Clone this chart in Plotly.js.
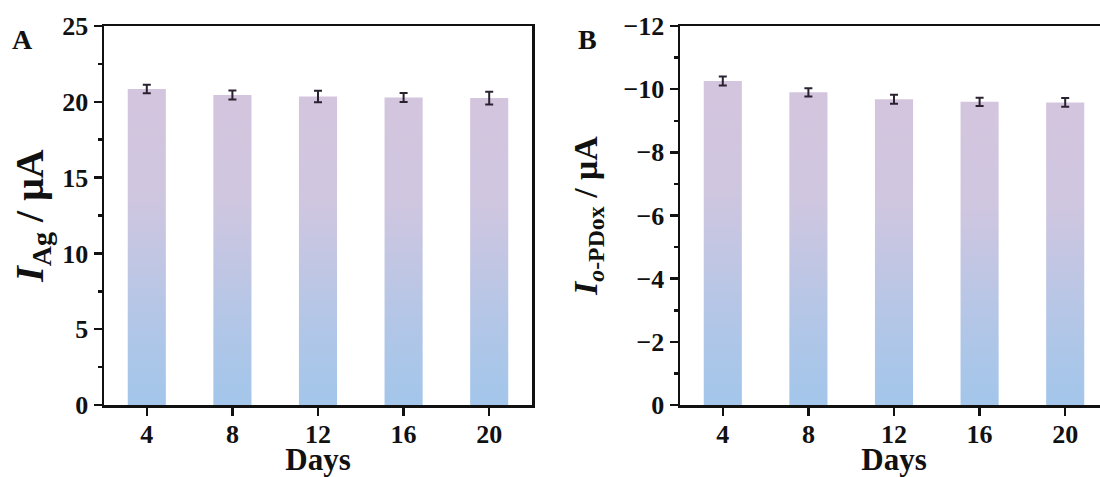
<!DOCTYPE html>
<html>
<head>
<meta charset="utf-8">
<script src="https://cdn.plot.ly/plotly-3.0.1.min.js"></script>
<style>
  html, body { margin: 0; padding: 0; overflow: hidden; background: #fff; }
  #chart { width: 1110px; height: 477px; }
</style>
</head>
<body>
<div id="chart"></div>
<script>
// ---- data ----
const days = [4, 8, 12, 16, 20];
const agCurrent = [20.85, 20.45, 20.35, 20.28, 20.25];      // panel A, µA
const agError = [0.28, 0.30, 0.38, 0.30, 0.42];
const opdCurrent = [-10.26, -9.90, -9.68, -9.60, -9.58];    // panel B, µA
const opdError = [0.14, 0.13, 0.14, 0.13, 0.14];
const panelLabels = ['A', 'B'];
const xTitle = 'Days';
const yTitleA = '<i>I</i><sub>Ag</sub>\u00A0/ μA';
const yTitleB = '<i>I</i><sub><i>o</i>-PDox</sub> / μA';

// ---- style ----
const W = 1110, H = 477;
const FONT = "'Liberation Serif', 'Times New Roman', serif";
const AXC = '#111111';
const ERRC = '#2a2230';
const barWidth = 1.78;

function px(x) { return x / W; }

const errStyle = { type: 'data', visible: true, thickness: 2, width: 4, color: ERRC };

const traces = [
  {
    type: 'bar', x: days, y: agCurrent, width: barWidth,
    marker: { color: '#bfc5e3', line: { width: 0 } },
    error_y: Object.assign({ array: agError }, errStyle),
    xaxis: 'x', yaxis: 'y', hoverinfo: 'none'
  },
  {
    type: 'bar', x: days, y: opdCurrent, width: barWidth,
    marker: { color: '#bfc5e3', line: { width: 0 } },
    error_y: Object.assign({ array: opdError }, errStyle),
    xaxis: 'x2', yaxis: 'y2', hoverinfo: 'none'
  }
];

const tickFont = { family: FONT, size: 26, color: AXC, weight: 'bold' };
const xTitleFont = { family: FONT, size: 31, color: AXC, weight: 'bold' };

function xAxis(domain, anchor) {
  return {
    domain: domain, anchor: anchor, range: [2, 22],
    tickmode: 'array', tickvals: days, ticktext: days.map(String),
    ticks: 'outside', ticklen: 8, tickwidth: 2.5, tickcolor: AXC,
    showline: true, linewidth: 2.5, linecolor: AXC, mirror: true,
    showgrid: false, zeroline: false,
    tickfont: tickFont, ticklabelstandoff: -4,
    title: { text: xTitle, font: xTitleFont, standoff: 2 }
  };
}

const layout = {
  width: W, height: H,
  margin: { l: 0, r: 0, t: 26, b: 72, pad: 0 },
  paper_bgcolor: '#ffffff', plot_bgcolor: '#ffffff',
  showlegend: false,
  font: { family: FONT, color: AXC },
  xaxis: xAxis([px(104), px(532)], 'y'),
  xaxis2: xAxis([px(680), px(1108)], 'y2'),
  yaxis: {
    domain: [0, 1], anchor: 'x', range: [0, 25],
    tickmode: 'linear', tick0: 0, dtick: 5,
    ticks: 'outside', ticklen: 8, tickwidth: 2.5, tickcolor: AXC,
    minor: { ticks: 'outside', dtick: 2.5, ticklen: 4, tickwidth: 2.5, tickcolor: AXC, showgrid: false },
    showline: true, linewidth: 2.5, linecolor: AXC, mirror: true,
    showgrid: false, zeroline: false,
    tickfont: tickFont,
    title: { text: yTitleA, font: { family: FONT, size: 40, color: AXC, weight: 'bold' }, standoff: 7 }
  },
  yaxis2: {
    domain: [0, 1], anchor: 'x2', range: [0, -12],
    tickmode: 'linear', tick0: 0, dtick: 2,
    ticks: 'outside', ticklen: 8, tickwidth: 2.5, tickcolor: AXC,
    minor: { ticks: 'outside', dtick: 1, ticklen: 4, tickwidth: 2.5, tickcolor: AXC, showgrid: false },
    showline: true, linewidth: 2.5, linecolor: AXC, mirror: true,
    showgrid: false, zeroline: false,
    tickfont: tickFont,
    title: { text: yTitleB, font: { family: FONT, size: 34, color: AXC, weight: 'bold' }, standoff: 16 }
  },
  annotations: [
    { text: panelLabels[0], xref: 'paper', yref: 'paper', x: px(22), y: 1 - (40 - 26) / 379,
      xanchor: 'center', yanchor: 'middle', showarrow: false,
      font: { family: FONT, size: 28, color: AXC, weight: 'bold' } },
    { text: panelLabels[1], xref: 'paper', yref: 'paper', x: px(587), y: 1 - (40 - 26) / 379,
      xanchor: 'center', yanchor: 'middle', showarrow: false,
      font: { family: FONT, size: 28, color: AXC, weight: 'bold' } }
  ]
};

function applyGradient(gd) {
  const svg = gd.querySelector('svg.main-svg');
  if (!svg) return;
  const NS = 'http://www.w3.org/2000/svg';
  let defs = svg.querySelector('defs');
  if (!defs) { defs = document.createElementNS(NS, 'defs'); svg.insertBefore(defs, svg.firstChild); }
  const grad = document.createElementNS(NS, 'linearGradient');
  grad.setAttribute('id', 'barGrad');
  grad.setAttribute('x1', '0'); grad.setAttribute('y1', '0');
  grad.setAttribute('x2', '0'); grad.setAttribute('y2', '1');
  [['0', '#d4c5de'], ['0.35', '#cfc6e0'], ['0.8', '#aec6e8'], ['1', '#a3c6ea']].forEach(function (s) {
    const st = document.createElementNS(NS, 'stop');
    st.setAttribute('offset', s[0]);
    st.setAttribute('stop-color', s[1]);
    grad.appendChild(st);
  });
  defs.appendChild(grad);
  gd.querySelectorAll('.barlayer .point path').forEach(function (p) {
    p.style.fill = 'url(#barGrad)';
  });
}

Plotly.newPlot('chart', traces, layout, { displayModeBar: false, staticPlot: true })
  .then(applyGradient);
</script>
</body>
</html>
